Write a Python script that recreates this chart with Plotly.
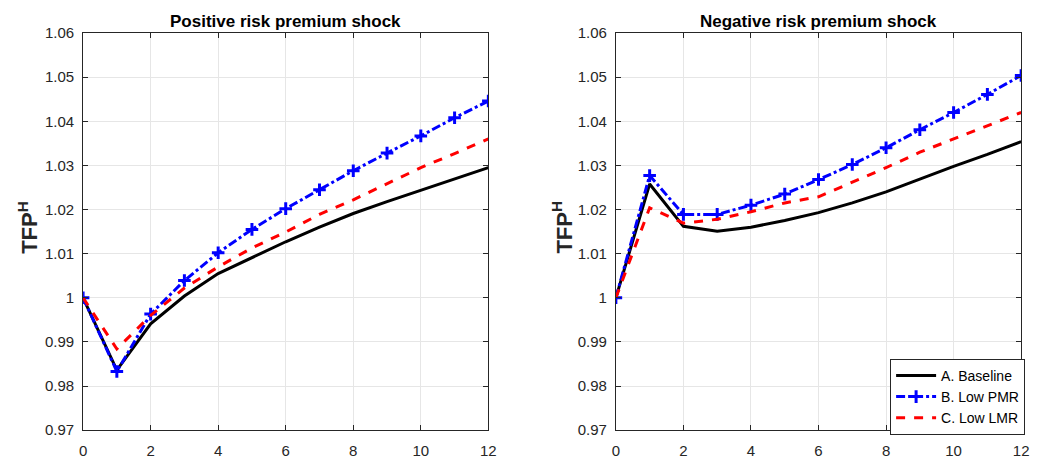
import plotly.graph_objects as go

periods = list(range(13))

pos_baseline = [1.0000, 0.9836, 0.9941, 1.0004, 1.0055, 1.0091, 1.0127, 1.0160, 1.0191, 1.0218, 1.0244, 1.0269, 1.0295]
pos_low_pmr = [1.0000, 0.9833, 0.9963, 1.0039, 1.0102, 1.0155, 1.0202, 1.0245, 1.0288, 1.0328, 1.0367, 1.0408, 1.0446]
pos_low_lmr = [1.0000, 0.9884, 0.9960, 1.0022, 1.0070, 1.0113, 1.0149, 1.0189, 1.0222, 1.0258, 1.0295, 1.0327, 1.0360]

neg_baseline = [1.0000, 1.0258, 1.0162, 1.0151, 1.0160, 1.0175, 1.0193, 1.0215, 1.0240, 1.0269, 1.0298, 1.0325, 1.0354]
neg_low_pmr = [1.0000, 1.0277, 1.0189, 1.0189, 1.0210, 1.0235, 1.0268, 1.0302, 1.0340, 1.0381, 1.0420, 1.0461, 1.0504]
neg_low_lmr = [1.0000, 1.0204, 1.0169, 1.0178, 1.0195, 1.0215, 1.0229, 1.0262, 1.0295, 1.0330, 1.0360, 1.0390, 1.0420]

series_names = ["A. Baseline", "B. Low PMR", "C. Low LMR"]
titles = ["Positive risk premium shock", "Negative risk premium shock"]
y_tick_vals = [0.97, 0.98, 0.99, 1.00, 1.01, 1.02, 1.03, 1.04, 1.05, 1.06]
y_tick_text = ["0.97", "0.98", "0.99", "1", "1.01", "1.02", "1.03", "1.04", "1.05", "1.06"]
x_tick_vals = [0, 2, 4, 6, 8, 10, 12]

W, H = 1042, 468
FONT = "Liberation Sans, Arial, sans-serif"

fig = go.Figure()

panels = [
    (pos_baseline, pos_low_pmr, pos_low_lmr, "x", "y"),
    (neg_baseline, neg_low_pmr, neg_low_lmr, "x2", "y2"),
]
for i, (b, p, l, xa, ya) in enumerate(panels):
    show = i == 1
    fig.add_trace(go.Scatter(x=periods, y=b, mode="lines", name=series_names[0],
                             line=dict(color="black", width=3), xaxis=xa, yaxis=ya,
                             showlegend=show))
    fig.add_trace(go.Scatter(x=periods, y=p, mode="lines+markers", name=series_names[1],
                             line=dict(color="#0000ff", width=3, dash="dashdot"),
                             marker=dict(symbol="cross-thin", size=9,
                                         line=dict(color="#0000ff", width=3)),
                             xaxis=xa, yaxis=ya, showlegend=show))
    fig.add_trace(go.Scatter(x=periods, y=l, mode="lines", name=series_names[2],
                             line=dict(color="#ff0000", width=3, dash="dash"),
                             xaxis=xa, yaxis=ya, showlegend=show))

x_domains = [[80 / W, 490 / W], [619 / W, 1029 / W]]
y_domain = [1 - 437 / H, 1 - 25 / H]

axis_common = dict(showline=True, linecolor="#262626", linewidth=1, mirror="ticks",
                   ticks="inside", ticklen=5, tickcolor="#262626",
                   showgrid=True, gridcolor="#e6e6e6", gridwidth=1, zeroline=False,
                   tickfont=dict(family=FONT, size=15, color="#262626"))

for i, (xk, yk) in enumerate([("xaxis", "yaxis"), ("xaxis2", "yaxis2")]):
    anchor_y = "y" if i == 0 else "y2"
    anchor_x = "x" if i == 0 else "x2"
    fig.update_layout(**{
        xk: dict(domain=x_domains[i], range=[0, 12], tickvals=x_tick_vals,
                 anchor=anchor_y, ticklabelstandoff=7, **axis_common),
        yk: dict(domain=y_domain, range=[0.97, 1.06], tickvals=y_tick_vals,
                 ticktext=y_tick_text, anchor=anchor_x, ticklabelstandoff=5, **axis_common),
    })

annotations = []
for i in range(2):
    cx = (x_domains[i][0] + x_domains[i][1]) / 2
    annotations.append(dict(text="<b>" + titles[i] + "</b>", x=cx, y=1 - 13 / H,
                            xref="paper", yref="paper", xanchor="center", yanchor="middle",
                            showarrow=False, font=dict(family=FONT, size=17, color="black")))
    lx = [24 / W, 565 / W][i]
    annotations.append(dict(text="<b>TFP<sup>H</sup></b>", x=lx, y=(y_domain[0] + y_domain[1]) / 2 + 0.01,
                            xref="paper", yref="paper", xanchor="center", yanchor="middle",
                            textangle=-90, showarrow=False,
                            font=dict(family=FONT, size=22, color="#262626")))

fig.update_layout(
    width=W, height=H,
    margin=dict(l=0, r=0, t=0, b=0),
    paper_bgcolor="white", plot_bgcolor="white",
    annotations=annotations,
    legend=dict(x=1033 / W, y=1 - 363 / H, xanchor="right", yanchor="top",
                bgcolor="white", bordercolor="#262626", borderwidth=1,
                font=dict(family=FONT, size=14, color="black"),
                tracegroupgap=0, itemwidth=40),
    font=dict(family=FONT),
)

fig.write_html("out.html")
